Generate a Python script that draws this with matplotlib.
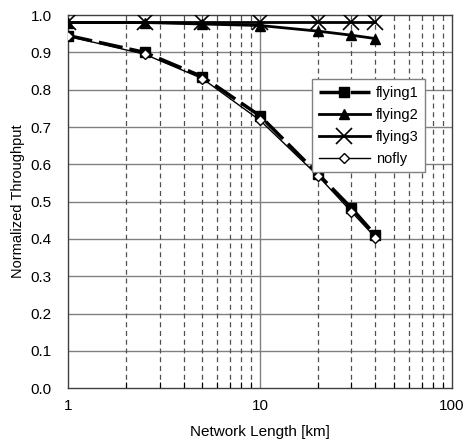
import matplotlib
matplotlib.use('Agg')
import matplotlib.pyplot as plt
from matplotlib.ticker import FixedLocator, NullFormatter, FormatStrFormatter

# Donnees
longueurs = [1, 2.5, 5, 10, 20, 30, 40]
flying1 = [0.945, 0.90, 0.835, 0.73, 0.575, 0.483, 0.41]
flying2 = [0.98, 0.98, 0.976, 0.972, 0.957, 0.946, 0.937]
flying3 = [0.981, 0.981, 0.981, 0.981, 0.981, 0.981, 0.981]
nofly = [0.943, 0.895, 0.83, 0.718, 0.57, 0.473, 0.404]

plt.rcParams['font.family'] = ['Liberation Sans', 'DejaVu Sans']
plt.rcParams['font.size'] = 10.5

fig = plt.figure(figsize=(4.66, 4.43), dpi=100)
ax = fig.add_axes([0.1466, 0.1235, 0.8227, 0.8425])

ax.set_xscale('log')
ax.set_xlim(1, 100)
ax.set_ylim(0, 1.0)

# grille : horizontale pleine, verticale en pointilles sur les mineurs
for y in [i / 10 for i in range(1, 10)]:
    ax.axhline(y, color='#808080', lw=1.0, zorder=0)
minors = [m * d for d in (1, 10) for m in range(2, 10)]
for x in minors:
    ax.axvline(x, color='#505050', lw=0.9, ls=(0, (4, 3)), zorder=0)
ax.axvline(10, color='#808080', lw=1.0, zorder=0)

ax.plot(longueurs, flying1, color='black', lw=2.5, ls=(0, (7, 2)),
        marker='s', ms=7.5, label='flying1', zorder=3)
ax.plot(longueurs, flying2, color='black', lw=2.0,
        marker='^', ms=7.5, label='flying2', zorder=3)
ax.plot(longueurs, flying3, color='black', lw=2.0,
        marker='x', ms=12, mew=1.2, label='flying3', zorder=3)
ax.plot(longueurs, nofly, color='black', lw=1.0,
        marker='D', ms=5, mfc='white', mew=1.0, label='nofly', zorder=4)

ax.xaxis.set_major_locator(FixedLocator([1, 10, 100]))
ax.xaxis.set_major_formatter(FormatStrFormatter('%g'))
ax.xaxis.set_minor_locator(FixedLocator(minors))
ax.xaxis.set_minor_formatter(NullFormatter())
ax.tick_params(axis='x', which='major', length=0, pad=8, labelsize=11)
ax.tick_params(axis='x', which='minor', direction='in', length=4, width=0.8)
ax.set_yticks([i / 10 for i in range(11)])
ax.yaxis.set_major_formatter(FormatStrFormatter('%.1f'))
ax.tick_params(axis='y', length=0, pad=12, labelsize=11)

for s in ax.spines.values():
    s.set_color('#404040')
    s.set_linewidth(1.0)

ax.set_xlabel('Network Length [km]', labelpad=8, fontsize=11)
ax.set_ylabel('Normalized Throughput', labelpad=4, fontsize=10.5)

leg = ax.legend(loc='upper left', bbox_to_anchor=(0.636, 0.828), borderaxespad=0,
                fancybox=False, framealpha=1, edgecolor='#808080',
                handlelength=3.5, borderpad=0.45, labelspacing=0.55,
                handletextpad=0.4, fontsize=10.5)
leg.get_frame().set_linewidth(1.0)

fig.savefig('out.png', dpi=100)
